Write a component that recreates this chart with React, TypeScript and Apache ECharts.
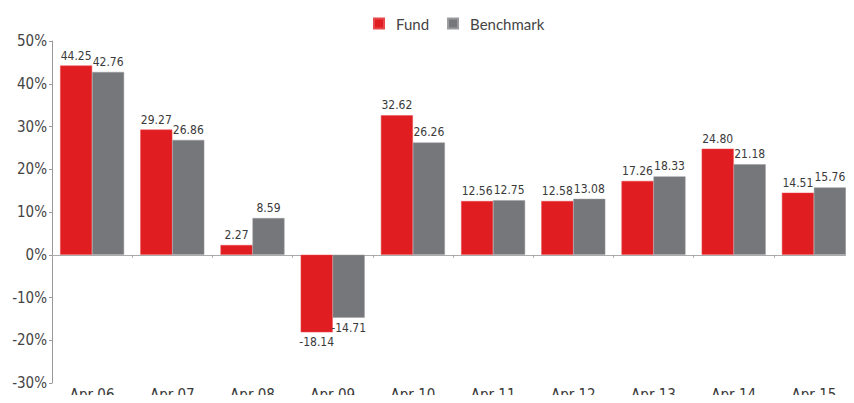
import React, { useEffect, useRef } from "react";
import * as echarts from "echarts";

const categories = ["Apr 06", "Apr 07", "Apr 08", "Apr 09", "Apr 10", "Apr 11", "Apr 12", "Apr 13", "Apr 14", "Apr 15"];
const fundValues = [44.25, 29.27, 2.27, -18.14, 32.62, 12.56, 12.58, 17.26, 24.8, 14.51];
const benchmarkValues = [42.76, 26.86, 8.59, -14.71, 26.26, 12.75, 13.08, 18.33, 21.18, 15.76];
const yMin = -30;
const yMax = 50;
const yStep = 10;

const FONT = "'DejaVu Sans Condensed', 'Liberation Sans Narrow', sans-serif";
const LEGEND_FONT = "Lato, 'Open Sans', sans-serif";
const RED = "#e01e22";
const GRAY = "#76777b";

function toItems(values: number[]) {
  return values.map((v) => ({
    value: v,
    label: { position: v < 0 ? "bottom" : "top" },
  }));
}

export default function App() {
  const ref = useRef<HTMLDivElement>(null);
  useEffect(() => {
    if (!ref.current) return;
    const chart = echarts.init(ref.current, undefined, { renderer: "svg" });
    const labelStyle = {
      show: true,
      fontFamily: FONT,
      fontSize: 12,
      color: "#3a3a3a",
      distance: 4,
      formatter: (p: any) => Number(p.value).toFixed(2),
    };
    chart.setOption({
      animation: false,
      textStyle: { fontFamily: FONT },
      graphic: [
        { type: "rect", left: 0, top: 0, shape: { width: 854, height: 3 }, style: { fill: RED } },
      ],
      legend: {
        top: 11,
        left: 368,
        icon: "rect",
        itemWidth: 10,
        itemHeight: 10,
        itemGap: 18,
        textStyle: { fontFamily: LEGEND_FONT, fontSize: 15, color: "#444", padding: [0, 0, 0, 7] },
        data: ["Fund", "Benchmark"],
      },
      grid: { left: 52, right: 0, top: 41, bottom: 20, containLabel: false, outerBoundsMode: "none" },
      xAxis: [
        {
          type: "category",
          data: categories,
          position: "bottom",
          axisLine: { show: false, onZero: false },
          axisTick: { show: false },
          axisLabel: { fontFamily: FONT, fontSize: 15, color: "#3a3a3a", margin: 4 },
        },
        {
          type: "category",
          data: categories,
          position: "bottom",
          axisLine: { show: true, onZero: true, lineStyle: { color: "#aaa", width: 1 } },
          axisTick: { show: true, length: 3, lineStyle: { color: "#aaa" } },
          axisLabel: { show: false },
        },
      ],
      yAxis: {
        type: "value",
        min: yMin,
        max: yMax,
        interval: yStep,
        splitLine: { show: false },
        axisLine: { show: true, lineStyle: { color: "#999" } },
        axisTick: { show: true, length: 3, lineStyle: { color: "#999" } },
        axisLabel: {
          fontFamily: FONT,
          fontSize: 15,
          color: "#444",
          margin: 5,
          formatter: (v: number) => `${v}%`,
        },
      },
      series: [
        {
          name: "Fund",
          type: "bar",
          xAxisIndex: 0,
          data: toItems(fundValues),
          barWidth: 32,
          barGap: "0%",
          itemStyle: { color: RED, borderColor: "#e8484b", borderWidth: 0.5 },
          label: labelStyle,
        },
        {
          name: "Benchmark",
          type: "bar",
          xAxisIndex: 0,
          data: toItems(benchmarkValues),
          barWidth: 32,
          barGap: "0%",
          itemStyle: { color: GRAY, borderColor: "#9a9b9e", borderWidth: 0.5 },
          label: labelStyle,
        },
      ],
    });
    return () => chart.dispose();
  }, []);
  return <div ref={ref} style={{ width: 854, height: 403, margin: -8 }} />;
}
